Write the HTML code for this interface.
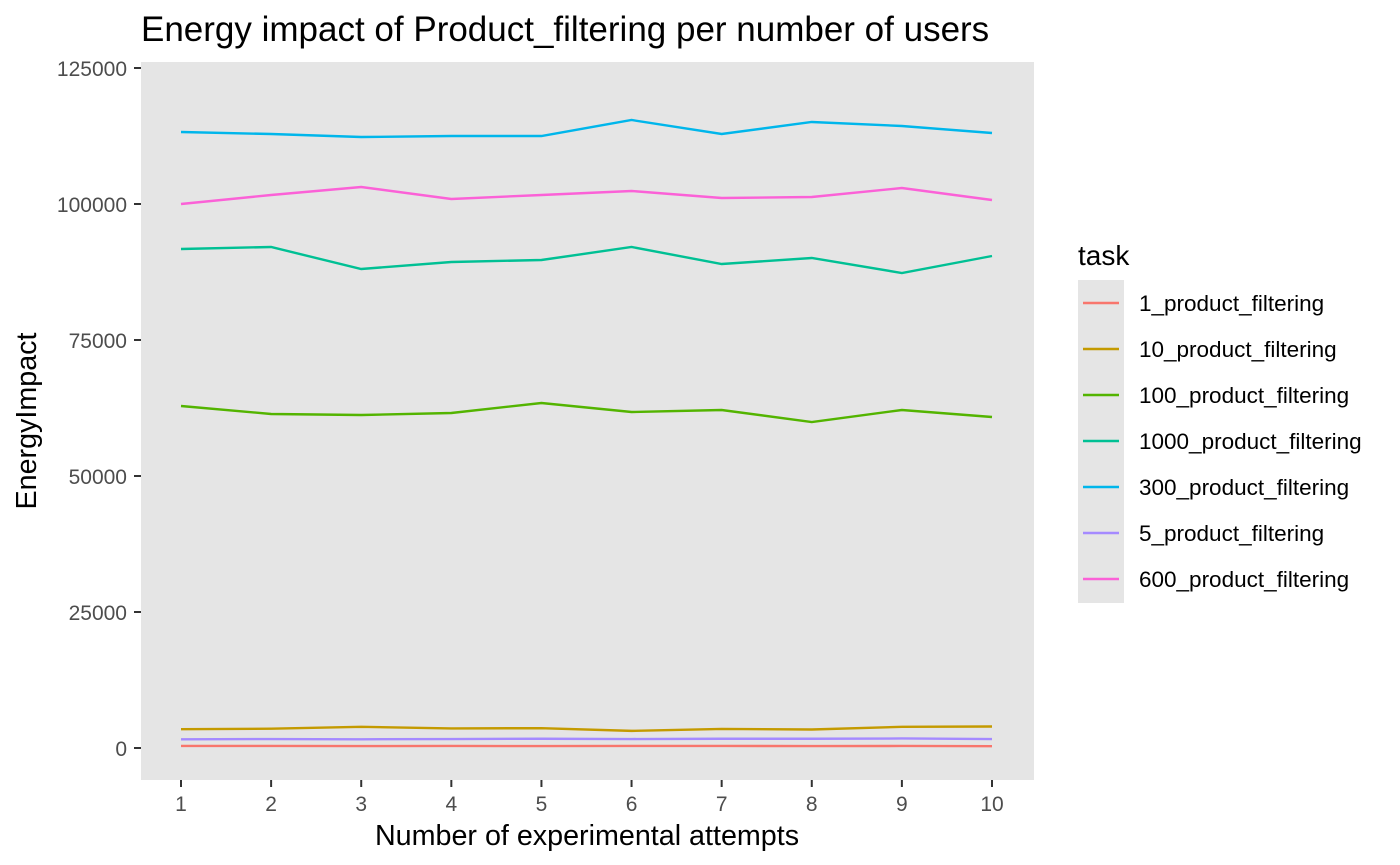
<!DOCTYPE html>
<html><head><meta charset="utf-8"><style>
body{margin:0;background:#fff;}
svg{display:block;font-family:"Liberation Sans",Arial,sans-serif;}
</style></head><body>
<svg id="chart" width="1400" height="865" viewBox="0 0 1400 865">
<text x="141" y="41" font-size="35" fill="#000">Energy impact of Product_filtering per number of users</text>
<rect x="141" y="62" width="893" height="718" fill="#e5e5e5"/>
<g id="axes"></g>
<g id="series"></g>
<text x="587" y="845" font-size="28.7" text-anchor="middle" fill="#000">Number of experimental attempts</text>
<text transform="translate(36,421) rotate(-90)" font-size="28.7" text-anchor="middle" fill="#000">EnergyImpact</text>
<text x="1078" y="265" font-size="28" fill="#000">task</text>
<rect x="1078" y="280" width="46" height="323" fill="#e5e5e5"/>
<g id="legend"></g>
</svg>
<script>
const attempts = [1,2,3,4,5,6,7,8,9,10];
const taskNames = ["1_product_filtering","10_product_filtering","100_product_filtering","1000_product_filtering","300_product_filtering","5_product_filtering","600_product_filtering"];
const taskColors = ["#F8766D","#C49A00","#53B400","#00C094","#00B6EB","#A58AFF","#FB61D7"];
const s1 = [370,370,360,370,360,370,370,360,370,330];
const s10 = [3450,3550,3900,3600,3650,3150,3500,3400,3900,3950];
const s100 = [62868,61397,61213,61581,63419,61765,62132,59926,62132,60846];
const s1000 = [91728,92096,88051,89338,89706,92096,88971,90074,87316,90441];
const s300 = [113235,112868,112316,112500,112500,115441,112868,115074,114338,113051];
const s5 = [1600,1650,1600,1650,1700,1650,1700,1700,1750,1650];
const s600 = [100000,101654,103125,100919,101654,102390,101103,101287,102941,100735];
const seriesValues = [s1,s10,s100,s1000,s300,s5,s600];
const yTicks = [0,25000,50000,75000,100000,125000];

const NS="http://www.w3.org/2000/svg";
function xs(v){return 181+(v-1)*(992-181)/9;}
function ys(v){return 748-v*(748-68)/125000;}
function mk(tag,attrs,parent){const e=document.createElementNS(NS,tag);for(const k in attrs)e.setAttribute(k,attrs[k]);parent.appendChild(e);return e;}
const axes=document.getElementById('axes');
yTicks.forEach(t=>{
  const l=mk('line',{x1:134,x2:141,y1:ys(t),y2:ys(t),stroke:'#333','stroke-width':2},axes);
  
  
  const tx=mk('text',{x:127,y:ys(t)+8,'font-size':21,'text-anchor':'end',fill:'#4d4d4d'},axes);
  tx.textContent=t;
  
  
});
attempts.forEach(a=>{
  const l=mk('line',{x1:xs(a),x2:xs(a),y1:780,y2:787,stroke:'#333','stroke-width':2},axes);
  
  
  const tx=mk('text',{x:xs(a),y:811,'font-size':21,'text-anchor':'middle',fill:'#4d4d4d'},axes);
  tx.textContent=a;
  
  
});
const sg=document.getElementById('series');
const lg=document.getElementById('legend');
seriesValues.forEach((vals,i)=>{
  const p=mk('polyline',{points:vals.map((v,j)=>xs(attempts[j])+','+ys(v)).join(' '),fill:'none',stroke:taskColors[i],'stroke-width':2.4},sg);
  
  
  const cy=303+i*46;
  const ll=mk('line',{x1:1083,x2:1119,y1:cy,y2:cy,stroke:taskColors[i],'stroke-width':2.4},lg);
  
  
  const lt=mk('text',{x:1139,y:cy+8,'font-size':22.5,fill:'#000'},lg);
  lt.textContent=taskNames[i];
  
  
});
</script>
</body></html>
